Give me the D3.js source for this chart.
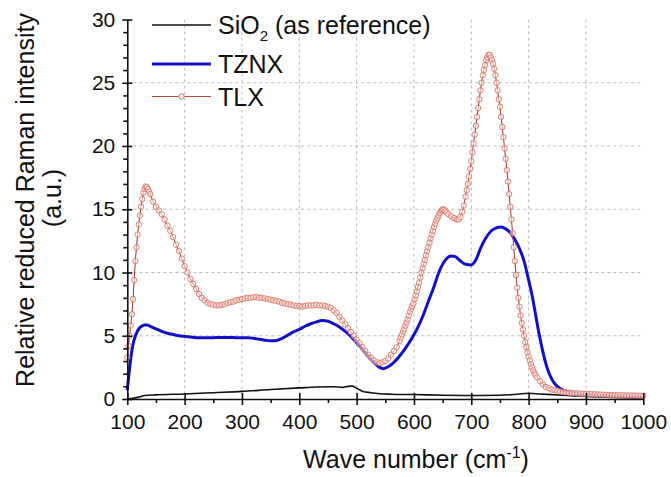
<!DOCTYPE html>
<html>
<head>
<meta charset="utf-8">
<script src="https://cdn.jsdelivr.net/npm/d3@7"></script>
<style>
  body { margin: 0; background: #fff; }
  text { font-family: "Liberation Sans", Arial, sans-serif; fill: #111; }
  .grid line { stroke: #a8a8a8; stroke-width: 0.8; stroke-dasharray: 3,3; }
  .axis path, .axis line { stroke: #111; stroke-width: 1.6; }
</style>
</head>
<body>
<div id="chart"></div>
<script>
// tick values
var xTicks = [100, 200, 300, 400, 500, 600, 700, 800, 900, 1000];
var xMinor = [150, 250, 350, 450, 550, 650, 750, 850, 950];
var yTicks = [0, 5, 10, 15, 20, 25, 30];
var yMinor = d3.range(0, 31).filter(function (d) { return d % 5 !== 0; });

// [wave number, intensity]
var sio2 = [
  [100, 0.0], [110, 0.05], [120, 0.15], [130, 0.28], [150, 0.33], [200, 0.4],
  [250, 0.5], [300, 0.6], [350, 0.75], [400, 0.88], [430, 0.95], [460, 0.97],
  [475, 0.92], [485, 1.0], [492, 1.02], [500, 0.85], [510, 0.62], [525, 0.5],
  [540, 0.42], [560, 0.38], [600, 0.35], [650, 0.3], [700, 0.28], [750, 0.3],
  [780, 0.38], [800, 0.45], [820, 0.4], [850, 0.32], [880, 0.25], [900, 0.2],
  [950, 0.12], [1000, 0.08]
];

var tznx = [
  [100, 0.7], [103, 2.0], [106, 3.2], [109, 4.1], [112, 4.7], [116, 5.2],
  [120, 5.55], [125, 5.75], [130, 5.85], [135, 5.85], [140, 5.75], [150, 5.55],
  [160, 5.35], [170, 5.2], [180, 5.1], [190, 5.0], [200, 4.95], [210, 4.9],
  [220, 4.85], [230, 4.85], [240, 4.85], [250, 4.85], [260, 4.87], [270, 4.87],
  [280, 4.87], [290, 4.85], [300, 4.85], [310, 4.85], [320, 4.8], [330, 4.72],
  [340, 4.65], [350, 4.6], [360, 4.62], [370, 4.8], [380, 5.05], [390, 5.3],
  [400, 5.5], [410, 5.75], [420, 5.95], [430, 6.1], [440, 6.2], [450, 6.15],
  [460, 5.95], [470, 5.7], [480, 5.35], [490, 4.95], [500, 4.45], [510, 3.95],
  [520, 3.4], [530, 2.9], [540, 2.5], [547, 2.4], [555, 2.55], [565, 2.9],
  [575, 3.4], [585, 4.0], [595, 4.7], [605, 5.5], [615, 6.5], [625, 7.7],
  [635, 8.9], [645, 10.2], [655, 11.0], [665, 11.3], [672, 11.25], [680, 10.95],
  [690, 10.65], [700, 10.6], [708, 11.0], [716, 11.9], [725, 12.7], [735, 13.3],
  [745, 13.55], [752, 13.6], [760, 13.45], [768, 13.15], [776, 12.6], [784, 11.9],
  [792, 10.9], [800, 9.4], [806, 8.2], [812, 6.7], [818, 5.2], [824, 3.9],
  [830, 2.8], [836, 2.0], [842, 1.45], [850, 1.0], [860, 0.7], [870, 0.55],
  [880, 0.45], [900, 0.35], [920, 0.3], [950, 0.25], [1000, 0.15]
];

var tlx = [
  [100, 3.3], [102, 4.2], [104, 5.0], [106, 5.8], [108, 6.7], [110, 7.9],
  [112, 9.4], [114, 10.9], [116, 12.0], [118, 13.0], [120, 13.8], [122, 14.5],
  [124, 15.2], [126, 15.8], [128, 16.3], [130, 16.6], [132, 16.8], [134, 16.75],
  [136, 16.6], [138, 16.4], [140, 16.2], [145, 15.6], [150, 15.2], [155, 14.9],
  [160, 14.6], [165, 14.2], [170, 13.7], [175, 13.3], [180, 12.8], [185, 12.2],
  [190, 11.7], [195, 11.1], [200, 10.5], [205, 10.0], [210, 9.5], [215, 9.1],
  [220, 8.7], [225, 8.3], [230, 8.0], [235, 7.8], [240, 7.6], [245, 7.5],
  [250, 7.45], [255, 7.4], [260, 7.4], [265, 7.45], [270, 7.5], [275, 7.6],
  [280, 7.65], [285, 7.7], [290, 7.8], [295, 7.85], [300, 7.9], [305, 7.95],
  [310, 8.0], [315, 8.0], [320, 8.05], [325, 8.05], [330, 8.0], [335, 8.0],
  [340, 7.95], [345, 7.9], [350, 7.85], [355, 7.8], [360, 7.75], [365, 7.7],
  [370, 7.6], [375, 7.55], [380, 7.5], [385, 7.45], [390, 7.4], [395, 7.35],
  [400, 7.35], [405, 7.3], [410, 7.35], [415, 7.4], [420, 7.4], [425, 7.4],
  [430, 7.45], [435, 7.4], [440, 7.4], [445, 7.35], [450, 7.3], [455, 7.2],
  [460, 7.0], [465, 6.8], [470, 6.5], [475, 6.2], [480, 5.9], [485, 5.6],
  [490, 5.3], [495, 5.0], [500, 4.7], [505, 4.4], [510, 4.1], [515, 3.8],
  [520, 3.5], [525, 3.25], [530, 3.05], [535, 2.9], [540, 2.85], [545, 2.9],
  [550, 3.0], [555, 3.2], [560, 3.5], [565, 3.8], [570, 4.1], [575, 4.6],
  [577, 4.85], [579, 5.1], [581, 5.35], [583, 5.55], [585, 5.8], [587, 6.05],
  [589, 6.3], [591, 6.6], [593, 6.9], [595, 7.15], [597, 7.35], [599, 7.55],
  [601, 7.9], [603, 8.2], [605, 8.5], [607, 8.85], [609, 9.2], [611, 9.6],
  [613, 10.0], [615, 10.35], [617, 10.7], [619, 11.0], [621, 11.35], [623, 11.7],
  [625, 12.0], [627, 12.35], [629, 12.7], [631, 13.0], [633, 13.3], [635, 13.6],
  [637, 13.85], [639, 14.1], [641, 14.3], [643, 14.5], [645, 14.7], [647, 14.85],
  [649, 14.95], [651, 15.0], [653, 14.95], [655, 14.85], [657, 14.75], [660, 14.6],
  [665, 14.45], [670, 14.3], [675, 14.2], [678, 14.2], [681, 14.4], [684, 14.8],
  [687, 15.3], [690, 16.0], [692, 16.5], [694, 17.0], [696, 17.6], [698, 18.2],
  [700, 18.8], [702, 19.5], [704, 20.2], [706, 20.9], [708, 21.6], [710, 22.3],
  [712, 23.0], [714, 23.7], [716, 24.4], [718, 25.0], [720, 25.6], [722, 26.0],
  [724, 26.4], [726, 26.8], [728, 27.0], [730, 27.2], [732, 27.2], [734, 27.0],
  [736, 26.8], [738, 26.5], [740, 26.1], [742, 25.6], [744, 25.0], [746, 24.4],
  [748, 23.7], [750, 23.1], [752, 22.3], [754, 21.5], [756, 20.7], [758, 19.8],
  [760, 19.0], [762, 18.1], [764, 17.2], [766, 16.2], [768, 15.2], [770, 14.2],
  [772, 13.1], [774, 12.0], [776, 10.9], [778, 9.8], [780, 8.8], [782, 8.0],
  [784, 7.3], [786, 6.6], [788, 6.0], [790, 5.5], [792, 5.0], [794, 4.5],
  [796, 4.1], [798, 3.7], [800, 3.35], [802, 3.05], [804, 2.75], [806, 2.5],
  [808, 2.25], [810, 2.05], [812, 1.9], [815, 1.7], [820, 1.4], [825, 1.15],
  [830, 0.95], [835, 0.85], [840, 0.75], [845, 0.7], [850, 0.65], [855, 0.6],
  [860, 0.55], [865, 0.52], [870, 0.5], [875, 0.47], [880, 0.45], [885, 0.44],
  [890, 0.42], [895, 0.41], [900, 0.4], [905, 0.39], [910, 0.38], [915, 0.37],
  [920, 0.36], [925, 0.35], [930, 0.34], [935, 0.33], [940, 0.32], [945, 0.31],
  [950, 0.3], [955, 0.3], [960, 0.29], [965, 0.29], [970, 0.28], [975, 0.28],
  [980, 0.27], [985, 0.27], [990, 0.26], [995, 0.26], [1000, 0.25]
];

var svgWidth = 671;
var svgHeight = 477;

var margin = { top: 19.5, right: 27.7, bottom: 78, left: 127.3 };
var width = svgWidth - margin.left - margin.right;
var height = svgHeight - margin.top - margin.bottom;

var svg = d3.select("#chart")
  .append("svg")
  .attr("width", svgWidth)
  .attr("height", svgHeight);

var chartGroup = svg.append("g")
  .attr("transform", `translate(${margin.left}, ${margin.top})`);

var xScale = d3.scaleLinear().domain([100, 1000]).range([0, width]);
var yScale = d3.scaleLinear().domain([0, 30]).range([height, 0]);

// dashed grid
var grid = chartGroup.append("g").attr("class", "grid");
grid.selectAll(".vg")
  .data(xTicks.slice(1, -1))
  .enter()
  .append("line")
  .attr("x1", d => xScale(d)).attr("x2", d => xScale(d))
  .attr("y1", 0).attr("y2", height);
grid.selectAll(".hg")
  .data(yTicks.slice(1, -1))
  .enter()
  .append("line")
  .attr("x1", 0).attr("x2", width)
  .attr("y1", d => yScale(d)).attr("y2", d => yScale(d));

// series
var line = d3.line()
  .x(d => xScale(d[0]))
  .y(d => yScale(d[1]));

chartGroup.append("path")
  .datum(sio2)
  .attr("fill", "none")
  .attr("stroke", "#111")
  .attr("stroke-width", 1.6)
  .attr("d", line.curve(d3.curveMonotoneX));

chartGroup.append("path")
  .datum(tznx)
  .attr("fill", "none")
  .attr("stroke", "#1010c8")
  .attr("stroke-width", 3)
  .attr("d", line.curve(d3.curveMonotoneX));

chartGroup.append("path")
  .datum(tlx)
  .attr("fill", "none")
  .attr("stroke", "#a8302a")
  .attr("stroke-width", 1)
  .attr("d", line.curve(d3.curveLinear));

chartGroup.selectAll(".tlx")
  .data(tlx)
  .enter()
  .append("circle")
  .attr("cx", d => xScale(d[0]))
  .attr("cy", d => yScale(d[1]))
  .attr("r", 2.7)
  .attr("fill", "#fff")
  .attr("fill-opacity", 0.5)
  .attr("stroke", "#d8705f")
  .attr("stroke-width", 0.9);

// axes: labels + outer ticks, inner ticks, minor ticks
chartGroup.append("g")
  .attr("class", "axis")
  .attr("transform", `translate(0, ${height})`)
  .call(d3.axisBottom(xScale).tickValues(xTicks).tickFormat(d3.format("d"))
    .tickSize(6).tickSizeOuter(0).tickPadding(9))
  .call(g => g.selectAll("text").style("font-size", "21px"));
chartGroup.append("g")
  .attr("class", "axis")
  .attr("transform", `translate(0, ${height})`)
  .call(d3.axisTop(xScale).tickValues(xTicks).tickSize(6).tickSizeOuter(0).tickFormat(""))
  .call(g => g.select(".domain").remove());
chartGroup.append("g")
  .attr("class", "axis")
  .attr("transform", `translate(0, ${height})`)
  .call(d3.axisBottom(xScale).tickValues(xMinor).tickSize(4).tickFormat(""))
  .call(g => g.select(".domain").remove());

chartGroup.append("g")
  .attr("class", "axis")
  .call(d3.axisLeft(yScale).tickValues(yTicks).tickSize(5).tickSizeOuter(0).tickPadding(7))
  .call(g => g.selectAll("text").style("font-size", "21px"));
chartGroup.append("g")
  .attr("class", "axis")
  .call(d3.axisRight(yScale).tickValues(yTicks).tickSize(5).tickSizeOuter(0).tickFormat(""))
  .call(g => g.select(".domain").remove());
chartGroup.append("g")
  .attr("class", "axis")
  .call(d3.axisLeft(yScale).tickValues(yMinor).tickSize(4).tickFormat(""))
  .call(g => g.select(".domain").remove());

// axis titles
var xTitle = svg.append("text")
  .attr("x", 416)
  .attr("y", 468)
  .attr("text-anchor", "middle")
  .style("font-size", "25px");
xTitle.append("tspan").text("Wave number (cm");
xTitle.append("tspan").attr("dy", -10).style("font-size", "16px").text("-1");
xTitle.append("tspan").attr("dy", 10).text(")");

svg.append("text")
  .attr("transform", "translate(34, 200) rotate(-90)")
  .attr("text-anchor", "middle")
  .style("font-size", "25px")
  .text("Relative reduced Raman intensity");
svg.append("text")
  .attr("transform", "translate(61, 198) rotate(-90)")
  .attr("text-anchor", "middle")
  .style("font-size", "25px")
  .text("(a.u.)");

// legend
var legendRows = [
  { name: "SiO", sub: "2", rest: " (as reference)", y: 25, color: "#111", w: 1.6 },
  { name: "TZNX", y: 64, color: "#1010c8", w: 3 },
  { name: "TLX", y: 96.5, color: "#c0463a", w: 1.2, marker: true }
];
var legend = svg.append("g");
legendRows.forEach(function (row) {
  legend.append("line")
    .attr("x1", 152).attr("x2", 211)
    .attr("y1", row.y).attr("y2", row.y)
    .attr("stroke", row.color)
    .attr("stroke-width", row.w);
  if (row.marker) {
    legend.append("circle")
      .attr("cx", 181.5).attr("cy", row.y).attr("r", 2.7)
      .attr("fill", "#fff").attr("stroke", "#d8705f").attr("stroke-width", 1);
  }
  var t = legend.append("text")
    .attr("x", 218)
    .attr("y", row.y + 9)
    .style("font-size", "25px");
  t.append("tspan").text(row.name);
  if (row.sub) {
    t.append("tspan").attr("dy", 7).style("font-size", "15px").text(row.sub);
    t.append("tspan").attr("dy", -7).text(row.rest);
  }
});
</script>
</body>
</html>
